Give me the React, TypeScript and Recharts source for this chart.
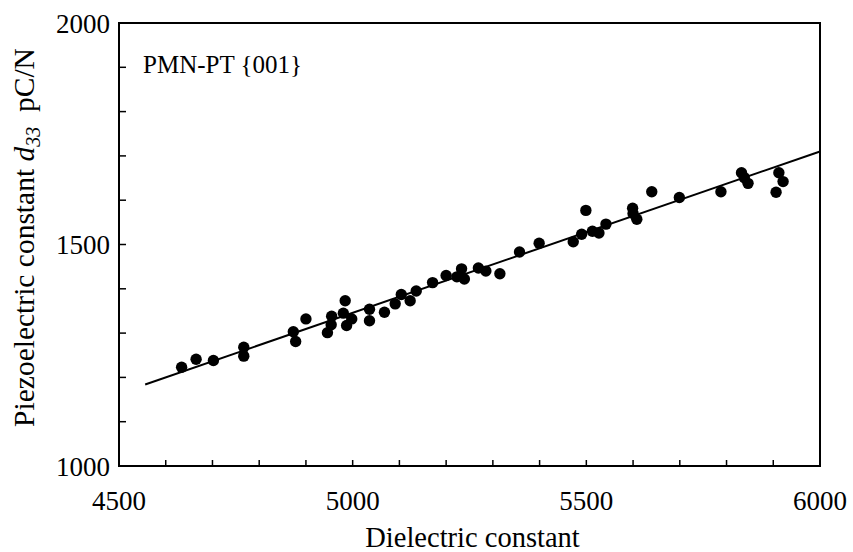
import React from "react";
import {
  ScatterChart,
  Scatter,
  XAxis,
  YAxis,
  ReferenceArea,
  ReferenceLine,
} from "recharts";

const dielectric = [
  4634, 4665, 4702, 4767, 4767, 4873, 4878, 4900, 4946, 4955, 4954, 4984, 4980,
  4987, 4998, 5036, 5036, 5068, 5091, 5104, 5123, 5136, 5171, 5200, 5223, 5233,
  5239, 5269, 5285, 5315, 5357, 5399, 5472, 5490, 5499, 5513, 5527, 5542, 5599,
  5600, 5608, 5640, 5699, 5788, 5832, 5838, 5846, 5912, 5921, 5906,
];
const d33 = [
  1223, 1241, 1238, 1268, 1248, 1303, 1281, 1332, 1301, 1338, 1319, 1373, 1345,
  1317, 1332, 1354, 1328, 1347, 1366, 1387, 1373, 1395, 1414, 1430, 1427, 1445,
  1422, 1447, 1440, 1434, 1483, 1503, 1506, 1523, 1577, 1530, 1526, 1546, 1582,
  1570, 1557, 1619, 1606, 1619, 1662, 1651, 1638, 1662, 1642, 1618,
];
const fitX = [4556, 6000];
const fitY = [1184, 1710];

const xTicks = [
  4500, 4600, 4700, 4800, 4900, 5000, 5100, 5200, 5300, 5400, 5500, 5600, 5700,
  5800, 5900, 6000,
];
const xLabels = [4500, 5000, 5500, 6000];
const yTicks = [1000, 1100, 1200, 1300, 1400, 1500, 1600, 1700, 1800, 1900, 2000];
const yLabels = [1000, 1500, 2000];

const xTitle = "Dielectric constant";
const panelLabel = "PMN-PT {001}";

const FONT = "'Liberation Serif', 'Times New Roman', serif";
const TICK_FONT = 27;
const X_TITLE_FONT = 28.5;
const Y_TITLE_FONT = 29.5;
const LABEL_FONT = 25;

const points = dielectric.map((x, i) => ({ x, y: d33[i] }));

const XTick = (props: any) => {
  const { x, y, payload } = props;
  const v = payload.value;
  const major = xLabels.includes(v);
  const edge = v === xTicks[0] || v === xTicks[xTicks.length - 1];
  return (
    <g>
      {!edge && (
        <line x1={x} x2={x} y1={y} y2={y - 6} stroke="#000" strokeWidth={1.5} />
      )}
      {major && (
        <text
          x={x}
          y={y + 44}
          textAnchor="middle"
          fontFamily={FONT}
          fontSize={TICK_FONT}
          fill="#000"
        >
          {v}
        </text>
      )}
    </g>
  );
};

const YTick = (props: any) => {
  const { x, y, payload } = props;
  const v = payload.value;
  const major = yLabels.includes(v);
  const edge = v === yTicks[0] || v === yTicks[yTicks.length - 1];
  return (
    <g>
      {!edge && (
        <line x1={x} x2={x + 7} y1={y} y2={y} stroke="#000" strokeWidth={1.5} />
      )}
      {major && (
        <text
          x={x - 9}
          y={y + 9.5}
          textAnchor="end"
          fontFamily={FONT}
          fontSize={TICK_FONT}
          fill="#000"
        >
          {v}
        </text>
      )}
    </g>
  );
};

const XTitle = (props: any) => {
  const vb = props.viewBox || { x: 119, y: 466, width: 701, height: 86 };
  return (
    <text
      x={vb.x + vb.width / 2 + 3}
      y={vb.y + 80.5}
      textAnchor="middle"
      fontFamily={FONT}
      fontSize={X_TITLE_FONT}
      fill="#000"
    >
      {xTitle}
    </text>
  );
};

const YTitle = (props: any) => {
  const vb = props.viewBox || { x: 0, y: 23, width: 119, height: 443 };
  const cx = vb.x + 33.5;
  const cy = vb.y + vb.height / 2 - 7;
  return (
    <text
      x={cx}
      y={cy}
      transform={`rotate(-90 ${cx} ${cy})`}
      textAnchor="middle"
      fontFamily={FONT}
      fontSize={Y_TITLE_FONT}
      fill="#000"
    >
      <tspan>Piezoelectric constant </tspan>
      <tspan fontStyle="italic">d</tspan>
      <tspan fontStyle="italic" fontSize={20} dy={6}>
        33
      </tspan>
      <tspan dy={-6}>{"\u00a0\u00a0pC/N"}</tspan>
    </text>
  );
};

const PanelLabel = (props: any) => {
  const vb = props.viewBox || { x: 119, y: 23, width: 701, height: 443 };
  return (
    <text
      x={vb.x + 24}
      y={vb.y + 50}
      fontFamily={FONT}
      fontSize={LABEL_FONT}
      fill="#000"
    >
      {panelLabel}
    </text>
  );
};

const Dot = (props: any) => (
  <circle cx={props.cx} cy={props.cy} r={5.7} fill="#000" />
);

export default function App() {
  return (
    <div style={{ position: "absolute", left: 0, top: 0, background: "#fff" }}>
      <ScatterChart
        width={853}
        height={552}
        margin={{ top: 23, right: 33, bottom: 0, left: 0 }}
      >
        <XAxis
          type="number"
          dataKey="x"
          domain={[4500, 6000]}
          ticks={xTicks}
          interval={0}
          height={86}
          tickSize={0}
          tickMargin={0}
          tickLine={false}
          axisLine={false}
          tick={<XTick />}
          label={{ content: <XTitle /> }}
          allowDataOverflow
        />
        <YAxis
          type="number"
          dataKey="y"
          domain={[1000, 2000]}
          ticks={yTicks}
          interval={0}
          width={119}
          tickSize={0}
          tickMargin={0}
          tickLine={false}
          axisLine={false}
          tick={<YTick />}
          label={{ content: <YTitle /> }}
          allowDataOverflow
        />
        <ReferenceArea
          x1={4500}
          x2={6000}
          y1={1000}
          y2={2000}
          fill="none"
          stroke="#000"
          strokeWidth={2}
          fillOpacity={0}
          label={{ content: <PanelLabel /> }}
        />
        <ReferenceLine
          segment={[
            { x: fitX[0], y: fitY[0] },
            { x: fitX[1], y: fitY[1] },
          ]}
          stroke="#000"
          strokeWidth={2}
        />
        <Scatter data={points} shape={<Dot />} isAnimationActive={false} />
      </ScatterChart>
    </div>
  );
}
